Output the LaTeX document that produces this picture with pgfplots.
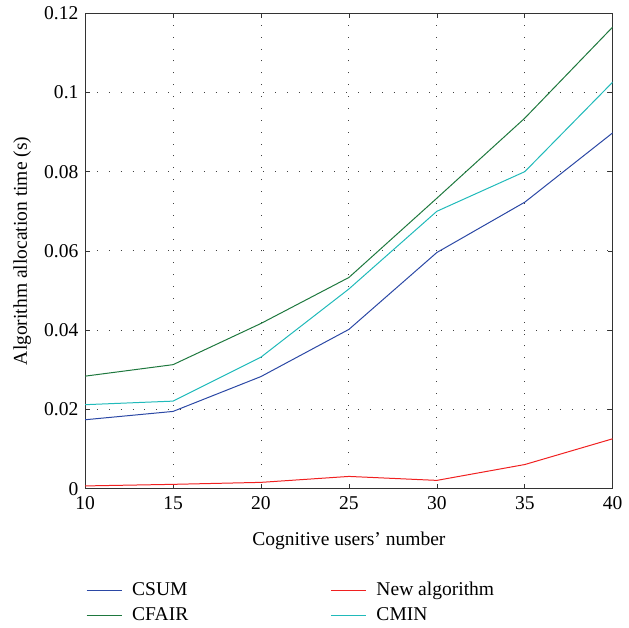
\documentclass[border=0pt]{standalone}
\usepackage{pgfplots}
\pgfplotsset{compat=1.18}
\usepackage{fontspec}
\setmainfont{Liberation Serif}
\definecolor{csum}{RGB}{43,72,165}
\definecolor{cfair}{RGB}{30,120,62}
\definecolor{cmin}{RGB}{32,186,186}
\definecolor{newalg}{RGB}{240,32,32}
\newcommand{\ff}{\fontsize{19.5bp}{22bp}\selectfont}
\begin{document}
\ff
\begin{tikzpicture}
\path (-85bp,0) -- (-84bp,0);
\begin{axis}[
  scale only axis,
  width=527bp, height=475bp,
  xmin=10, xmax=40, ymin=0, ymax=0.12,
  xtick={10,15,...,40},
  ytick={0,0.02,...,0.12},
  yticklabels={0,0.02,0.04,0.06,0.08,0.1,0.12},
  grid=major,
  grid style={black!75, line width=0.9pt, dash pattern=on 0.9pt off 11pt},
  tick align=inside,
  major tick length=5bp,
  tick style={black!80, line width=0.7pt},
  axis line style={black!80, line width=1pt},
  /pgf/number format/assume math mode=true,
  tick label style={font=\ff},
  xticklabel style={yshift=-1.5bp},
  label style={font=\ff},
  xlabel={Cognitive users’ number},
  xlabel style={yshift=-9bp},
  ylabel={Algorithm allocation time (s)},
  scaled y ticks=false,
  legend columns=2,
  legend image code/.code={\draw[mark repeat=2,mark phase=2,#1] plot coordinates {(0bp,0bp) (17.5bp,0bp) (35bp,0bp)};},
  legend style={draw=none, fill=none, at={(-0.004,-0.188)}, anchor=north west,
    font=\ff,
    /tikz/column 1/.style={column sep=8bp},
    /tikz/column 2/.style={column sep=140bp},
    /tikz/column 3/.style={column sep=8bp},
    row sep=5bp},
  legend cell align=left,
  every axis plot/.append style={line width=1pt},
]
\addplot[color=csum] coordinates {(10,0.0174) (15,0.0195) (20,0.0283) (25,0.0402) (30,0.0596) (35,0.0723) (40,0.0898)};
\addlegendentry{CSUM}
\addplot[color=newalg] coordinates {(10,0.0007) (15,0.0011) (20,0.0016) (25,0.0031) (30,0.0021) (35,0.0061) (40,0.0126)};
\addlegendentry{New algorithm}
\addplot[color=cfair] coordinates {(10,0.0284) (15,0.0313) (20,0.0417) (25,0.0533) (30,0.0733) (35,0.0935) (40,0.1165)};
\addlegendentry{CFAIR}
\addplot[color=cmin] coordinates {(10,0.0212) (15,0.0221) (20,0.0332) (25,0.0504) (30,0.0700) (35,0.0800) (40,0.1026)};
\addlegendentry{CMIN}
\end{axis}
\end{tikzpicture}
\end{document}
